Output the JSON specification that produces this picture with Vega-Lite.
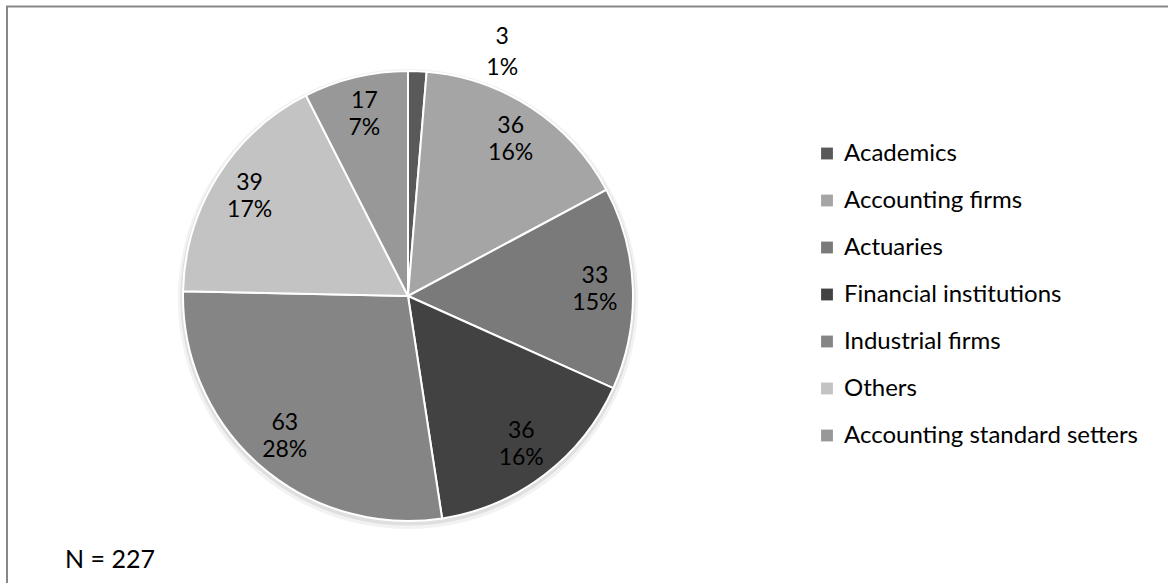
{
  "$schema": "https://vega.github.io/schema/vega-lite/v6.json",
  "width": 1161,
  "height": 576,
  "padding": {"left": 7, "top": 6.5, "right": 0, "bottom": 0},
  "autosize": {"type": "none"},
  "background": "white",
  "config": {
    "view": {"stroke": null},
    "font": "Lato"
  },
  "data": {
    "values": [
      {"group": "Academics", "count": 3, "label": "3\n1%", "i": 1},
      {"group": "Accounting firms", "count": 36, "label": "36\n16%", "i": 2},
      {"group": "Actuaries", "count": 33, "label": "33\n15%", "i": 3},
      {"group": "Financial institutions", "count": 36, "label": "36\n16%", "i": 4},
      {"group": "Industrial firms", "count": 63, "label": "63\n28%", "i": 5},
      {"group": "Others", "count": 39, "label": "39\n17%", "i": 6},
      {"group": "Accounting standard setters", "count": 17, "label": "17\n7%", "i": 7}
    ]
  },
  "layer": [
    {
      "data": {"values": [{}]},
      "mark": {"type": "rect", "fill": null, "stroke": "#878787", "strokeWidth": 2},
      "encoding": {
        "x": {"value": 0},
        "y": {"value": 0},
        "x2": {"value": 1200},
        "y2": {"value": 620}
      }
    },
    {
      "data": {"values": [{}]},
      "mark": {"type": "arc", "x": 401, "y": 292.5, "outerRadius": 230, "theta": 0, "theta2": 6.2832, "fill": "#000000", "opacity": 0.05},
      "encoding": {}
    },
    {
      "data": {"values": [{}]},
      "mark": {"type": "arc", "x": 401, "y": 291.5, "outerRadius": 227.5, "theta": 0, "theta2": 6.2832, "fill": "#000000", "opacity": 0.08},
      "encoding": {}
    },
    {
      "mark": {"type": "arc", "x": 401, "y": 289.5, "outerRadius": 225, "stroke": "white", "strokeWidth": 2},
      "encoding": {
        "theta": {"field": "count", "type": "quantitative", "stack": true},
        "order": {"field": "i", "type": "quantitative"},
        "color": {
          "field": "group",
          "type": "nominal",
          "scale": {
            "domain": ["Academics", "Accounting firms", "Actuaries", "Financial institutions", "Industrial firms", "Others", "Accounting standard setters"],
            "range": ["#595959", "#a5a5a5", "#7a7a7a", "#424242", "#858585", "#c3c3c3", "#989898"]
          },
          "legend": {
            "orient": "none",
            "legendX": 808,
            "legendY": 135,
            "padding": 0,
            "title": null,
            "symbolType": "square",
            "symbolSize": 140,
            "symbolStrokeWidth": 0,
            "symbolOpacity": 1,
            "labelFontSize": 24,
            "labelFont": "Lato",
            "labelColor": "#000000",
            "labelLimit": 400,
            "rowPadding": 23,
            "labelOffset": 5
          }
        }
      }
    },
    {
      "mark": {"type": "text", "x": 401, "y": 289.5, "radius": 187, "lineBreak": "\n", "fontSize": 23, "lineHeight": 27, "dy": -13.5, "color": "#000000", "baseline": "middle"},
      "encoding": {
        "theta": {"field": "count", "type": "quantitative", "stack": true},
        "order": {"field": "i", "type": "quantitative"},
        "text": {"field": "label", "type": "nominal", "condition": {"test": "datum.group === 'Academics'", "value": ""}}
      }
    },
    {
      "mark": {"type": "text", "x": 401, "y": 289.5, "radius": 276, "thetaOffset": 0.307, "lineBreak": "\n", "fontSize": 23, "lineHeight": 31, "color": "#000000", "baseline": "middle"},
      "encoding": {
        "theta": {"field": "count", "type": "quantitative", "stack": true},
        "order": {"field": "i", "type": "quantitative"},
        "text": {"field": "label", "type": "nominal", "condition": {"test": "datum.group !== 'Academics'", "value": ""}}
      }
    },
    {
      "data": {"values": [{}]},
      "mark": {"type": "text", "x": 58, "y": 561.5, "fontSize": 25, "align": "left", "baseline": "alphabetic", "color": "#000000"},
      "encoding": {"text": {"value": "N = 227"}}
    }
  ]
}
